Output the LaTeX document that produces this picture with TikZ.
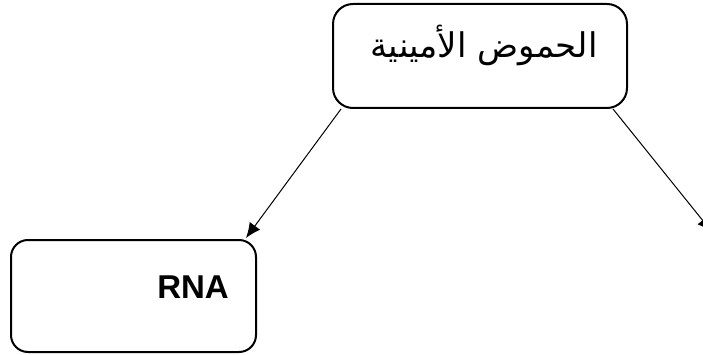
\documentclass[tikz,border=0pt]{standalone}
\usepackage{fontspec}
\setmainfont{Liberation Sans}
\newfontfamily\arabicfont[Script=Arabic]{DejaVu Sans}
\TeXXeTstate=1
\usetikzlibrary{arrows.meta,calc}
\begin{document}
\begin{tikzpicture}[x=1pt,y=-1pt,
  box/.style={draw=black,line width=2pt,rounded corners=20pt,inner sep=0pt},
  link/.style={draw=black,line width=1pt,-{Latex[length=15pt,width=13pt]}}]
  \useasboundingbox (0,0) rectangle (703,355);
  \clip (0,0) rectangle (703,355);
  % boxes
  \node[box,minimum width=294pt,minimum height=104pt] (amino) at (480,56) {};
  \node[box,rounded corners=17pt,minimum width=245pt,minimum height=112pt] (rna) at (133.5,296) {};
  % labels
  \node[inner sep=0pt] (aminolabel) at (484,45)
    {\arabicfont\fontsize{34pt}{40pt}\selectfont\beginR الحموض الأمينية\endR};
  \node[inner sep=0pt] (rnalabel) at (193,287)
    {\fontsize{33pt}{38pt}\selectfont\bfseries RNA};
  % connectors
  \coordinate (out) at (712,232);
  \draw[link] ($(amino.south west)+(9,0)$) -- ($(rna.north east)+(-11,-1)$);
  \draw[link] ($(amino.south east)+(-15,0)$) -- (out);
\end{tikzpicture}
\end{document}
